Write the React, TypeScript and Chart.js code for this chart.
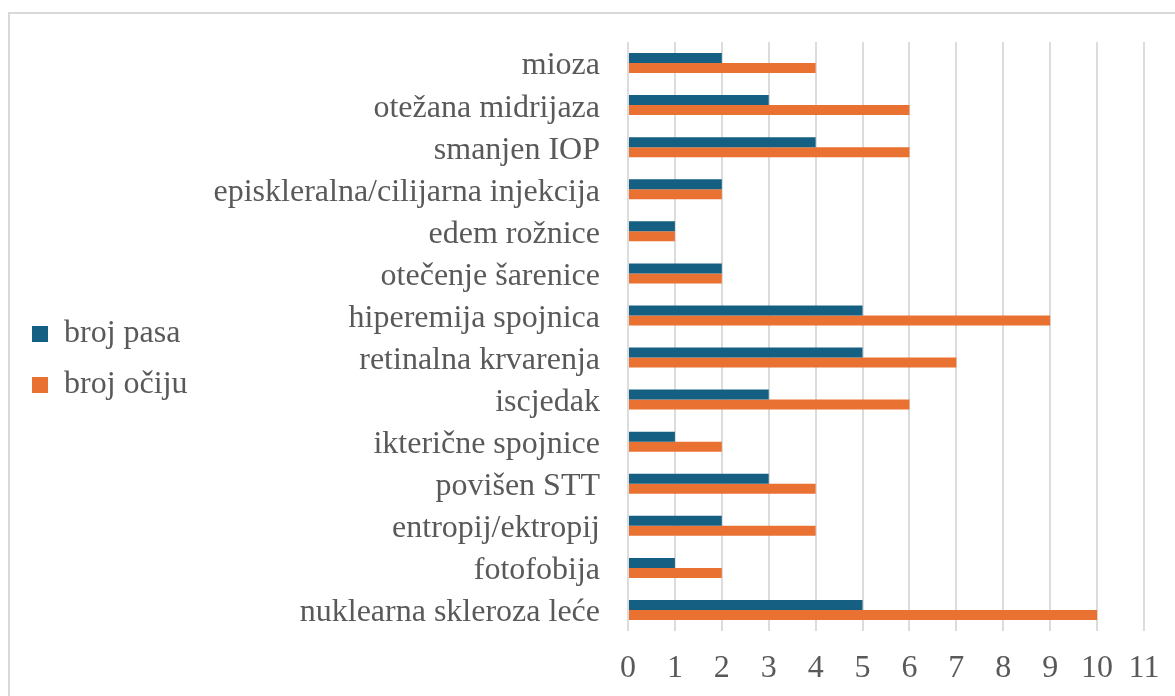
import React, { useEffect, useRef } from 'react';
import { Chart, registerables } from 'chart.js';

Chart.register(...registerables);

const categories = [
  'mioza',
  'otežana midrijaza',
  'smanjen IOP',
  'episkleralna/cilijarna injekcija',
  'edem rožnice',
  'otečenje šarenice',
  'hiperemija spojnica',
  'retinalna krvarenja',
  'iscjedak',
  'ikterične spojnice',
  'povišen STT',
  'entropij/ektropij',
  'fotofobija',
  'nuklearna skleroza leće',
];
const brojPasa = [2, 3, 4, 2, 1, 2, 5, 5, 3, 1, 3, 2, 1, 5];
const brojOciju = [4, 6, 6, 2, 1, 2, 9, 7, 6, 2, 4, 4, 2, 10];
const seriesNames = ['broj pasa', 'broj očiju'];
const seriesColors = ['#156082', '#E97132'];
const xMin = 0;
const xMax = 11;

const CANVAS_W = 1160;
const CANVAS_H = 682;
const PAD_LEFT = 3;
const PLOT_LEFT = 618;
const FONT = "'Liberation Serif', 'Times New Roman', serif";
const TEXT_COLOR = '#595959';

export default function App() {
  const ref = useRef<HTMLCanvasElement | null>(null);

  useEffect(() => {
    if (!ref.current) return;
    const chart = new Chart(ref.current, {
      type: 'bar',
      data: {
        labels: categories,
        datasets: [
          {
            label: seriesNames[0],
            data: brojPasa,
            backgroundColor: seriesColors[0],
            borderWidth: 0,
            barPercentage: 1,
            categoryPercentage: 0.475,
          },
          {
            label: seriesNames[1],
            data: brojOciju,
            backgroundColor: seriesColors[1],
            borderWidth: 0,
            barPercentage: 1,
            categoryPercentage: 0.475,
          },
        ],
      },
      options: {
        indexAxis: 'y',
        responsive: false,
        animation: false,
        layout: { padding: { left: PAD_LEFT, right: 26, top: 17.6, bottom: 8.6 } },
        plugins: {
          tooltip: { enabled: false },
          title: {
            display: true,
            text: '',
            padding: 0,
            font: { size: 10, lineHeight: 1.04 },
          },
          legend: {
            position: 'left',
            align: 'center',
            labels: {
              boxWidth: 16,
              boxHeight: 16,
              padding: 19,
              color: TEXT_COLOR,
              font: { family: FONT, size: 32 },
            },
          },
        },
        scales: {
          x: {
            type: 'linear',
            min: xMin,
            max: xMax,
            position: 'bottom',
            ticks: {
              stepSize: 1,
              padding: 18,
              color: TEXT_COLOR,
              font: { family: FONT, size: 32, lineHeight: 1.2 },
            },
            grid: { color: '#dcdcdc', lineWidth: 2, drawTicks: false },
            border: { display: false },
            afterFit: (scale: any) => {
              scale.height = 56.4;
              scale.paddingLeft = 0;
              scale.paddingRight = 0;
            },
          },
          y: {
            type: 'category',
            ticks: {
              autoSkip: false,
              padding: 28,
              labelOffset: 3,
              color: TEXT_COLOR,
              font: { family: FONT, size: 32 },
            },
            grid: { display: false, drawTicks: false },
            border: { display: false },
            afterFit: (scale: any) => {
              const lg = scale.chart.legend;
              const lw = lg ? lg.width : 0;
              scale.width = PLOT_LEFT - PAD_LEFT - lw;
              scale.paddingTop = 0;
              scale.paddingBottom = 0;
            },
          },
        },
      },
    });
    return () => chart.destroy();
  }, []);

  return (
    <div
      style={{
        position: 'fixed',
        left: 0,
        top: 0,
        width: 1175,
        height: 696,
        overflow: 'hidden',
        background: '#ffffff',
      }}
    >
      <div
        style={{
          position: 'absolute',
          left: 8,
          top: 12,
          width: 1200,
          height: 720,
          border: '2px solid #d9d9d9',
          boxSizing: 'border-box',
        }}
      />
      <canvas
        ref={ref}
        width={CANVAS_W}
        height={CANVAS_H}
        style={{ position: 'absolute', left: 10, top: 14, width: CANVAS_W, height: CANVAS_H, display: 'block' }}
      />
    </div>
  );
}
